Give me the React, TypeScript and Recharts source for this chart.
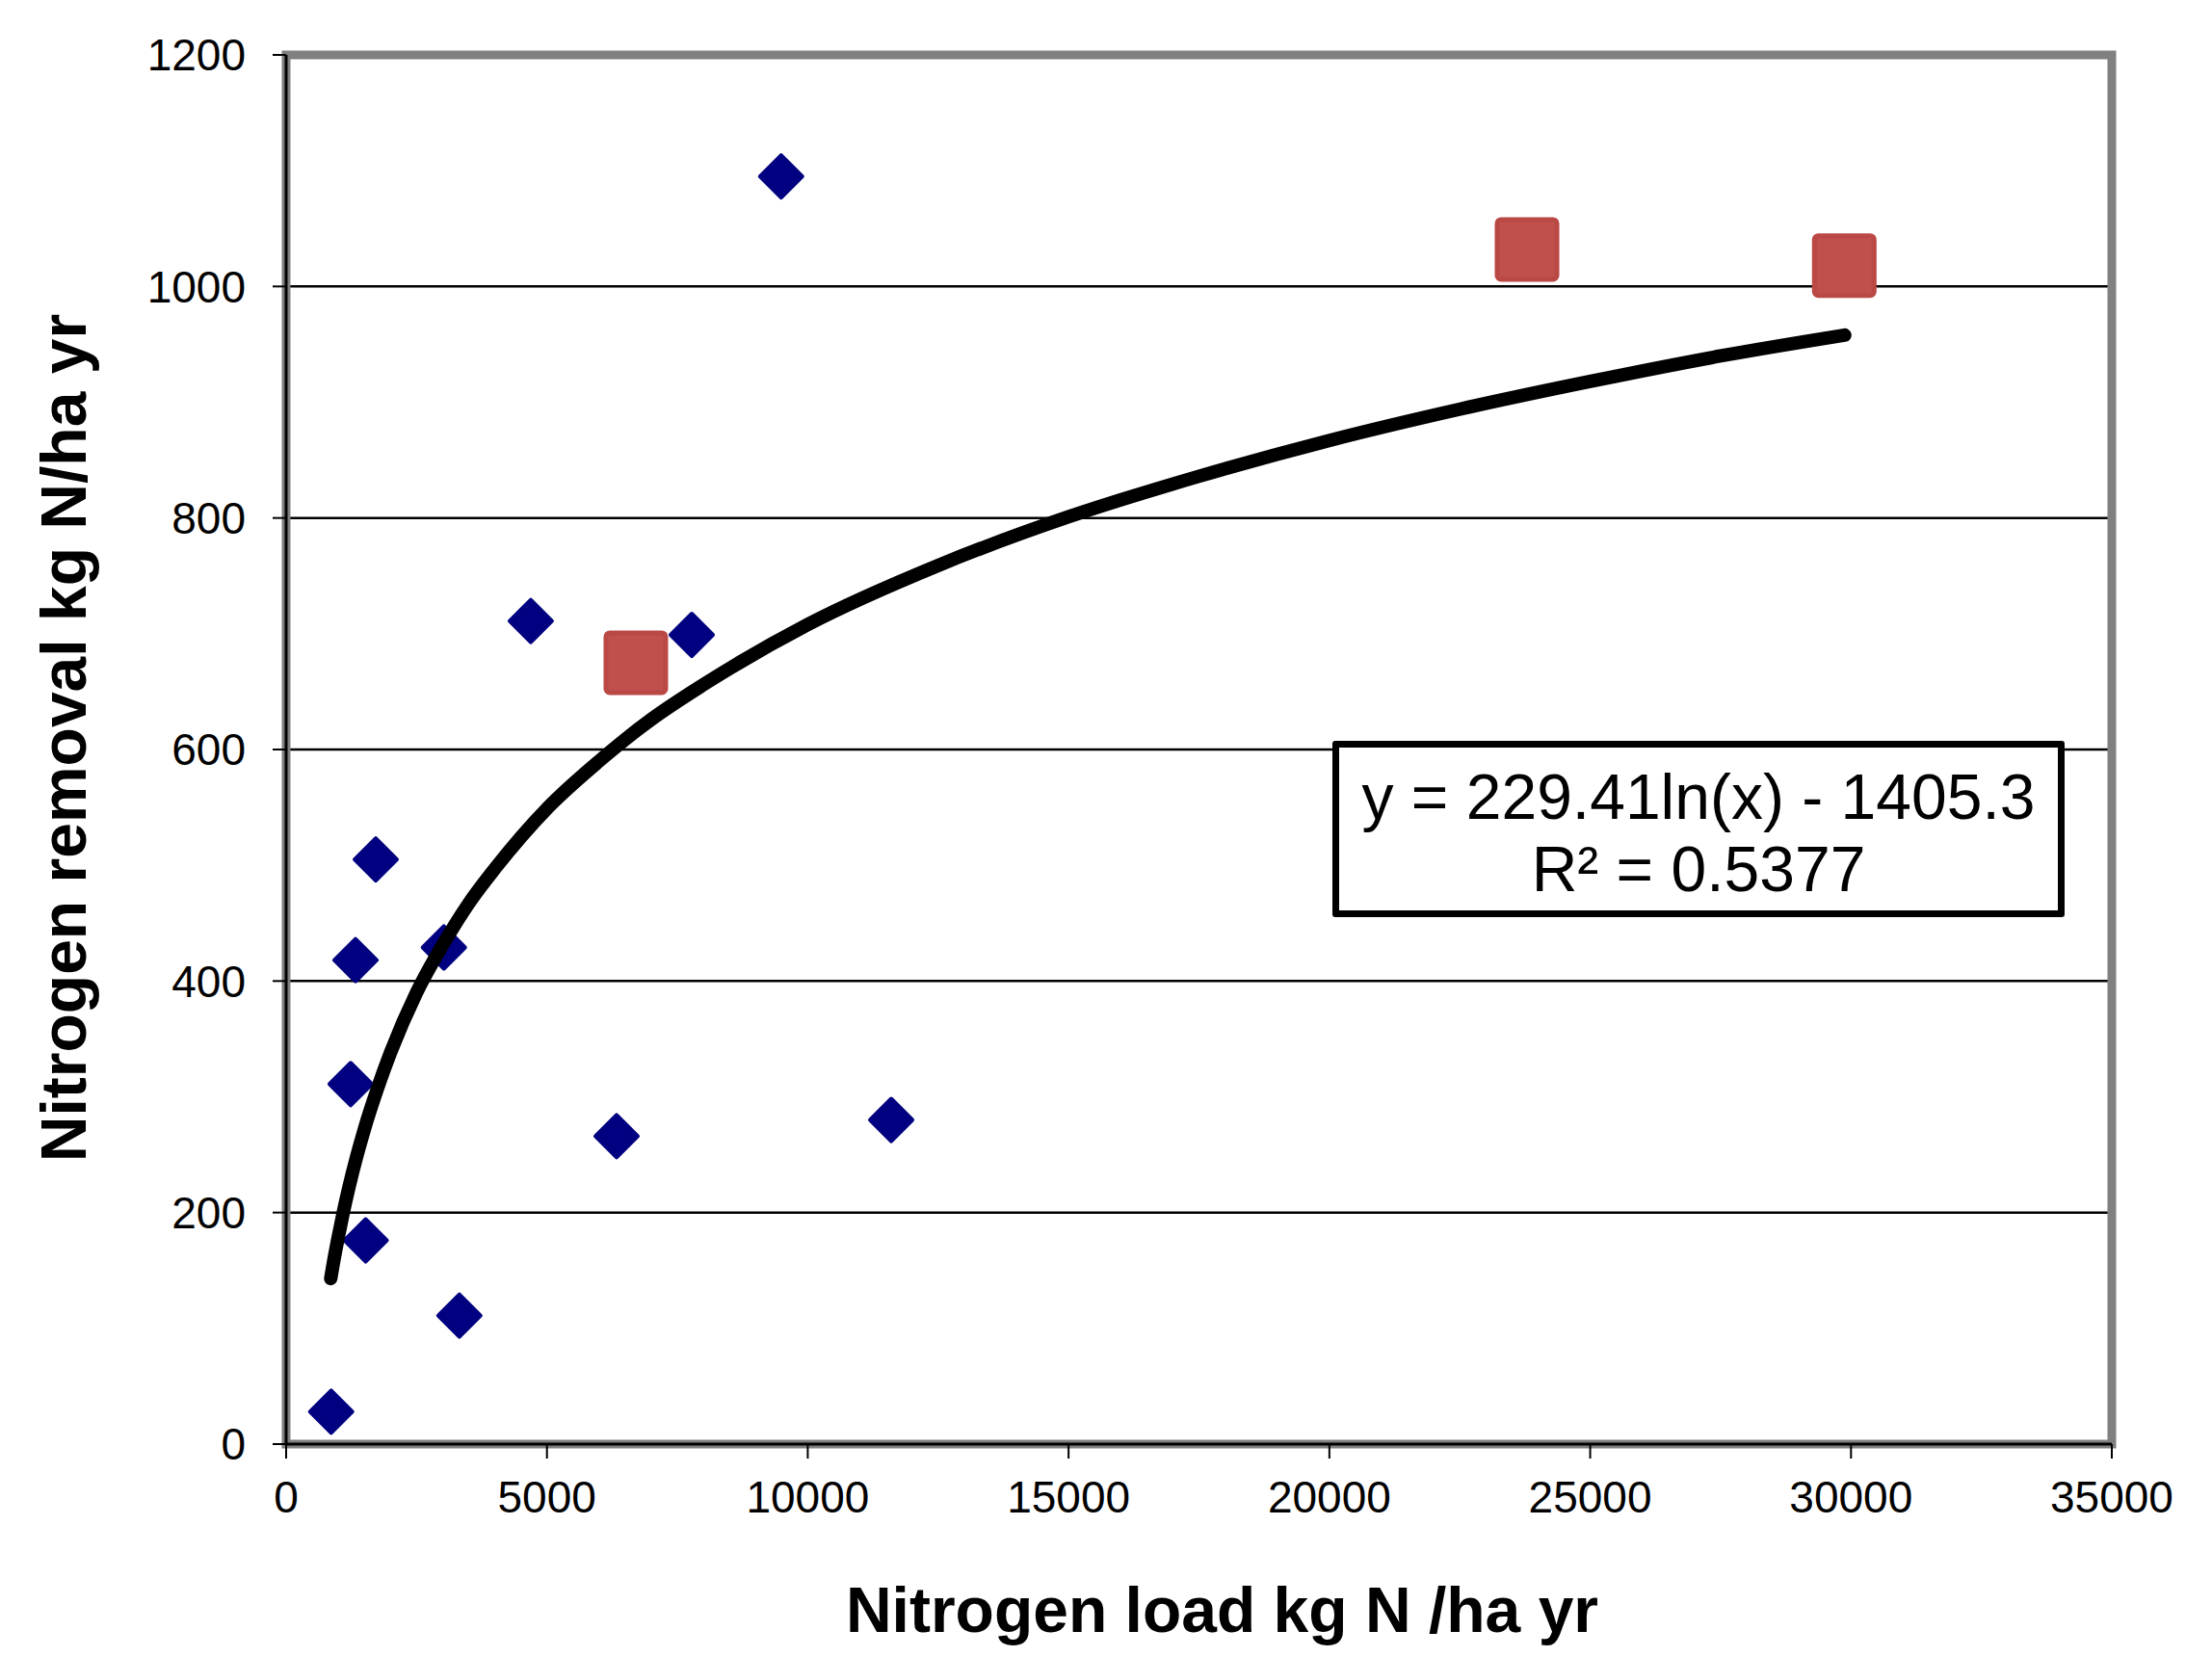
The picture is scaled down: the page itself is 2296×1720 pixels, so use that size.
import { ComposedChart, Scatter, Line, XAxis, YAxis, CartesianGrid, ReferenceArea, Label } from 'recharts';

// measured points (diamonds)
const siteLoad = [9490, 4690, 7776, 1718, 1330, 3024, 1237, 6335, 11600, 1524, 3321, 863];
const siteRemoval = [1095, 711, 699, 505, 418, 429, 311, 266, 280, 176, 111, 28];

// highlighted points (squares)
const highLoad = [6704, 23789, 29871];
const highRemoval = [675, 1032, 1018];

// points
const trendLoad = [855, 900, 1000, 1100, 1200, 1350, 1500, 1750, 2000, 2500, 3000, 3500, 4000, 5000, 6000, 7000, 8000, 10000, 12500, 15000, 17500, 20000, 22500, 25000, 27500, 29880];
const trendRemoval = [143, 155, 179, 201, 221, 248, 272, 307, 338, 390, 431, 467, 497, 549, 590, 626, 656, 708, 759, 801, 836, 867, 894, 918, 940, 958];

const xTicks = [0, 5000, 10000, 15000, 20000, 25000, 30000, 35000];
const yTicks = [0, 200, 400, 600, 800, 1000, 1200];

const equationText = 'y = 229.41ln(x) - 1405.3';
const rSquaredText = 'R² = 0.5377';

const sites = siteLoad.map((x, i) => ({ x, y: siteRemoval[i] }));
const highlighted = highLoad.map((x, i) => ({ x, y: highRemoval[i] }));
const trend = trendLoad.map((x, i) => ({ x, y: trendRemoval[i] }));

const FONT = "'Liberation Sans', Arial, sans-serif";

const Diamond = (props: any) => {
  const { cx, cy } = props;
  const r = 22;
  return (
    <polygon
      points={`${cx},${cy - r} ${cx + r},${cy} ${cx},${cy + r} ${cx - r},${cy}`}
      fill="#000080"
      stroke="#000080"
      strokeWidth={4}
      strokeLinejoin="round"
    />
  );
};

const Square = (props: any) => {
  const { cx, cy } = props;
  const s = 62;
  return (
    <rect x={cx - s / 2} y={cy - s / 2} width={s} height={s} rx={4} fill="#C0504D" stroke="#BA4845" strokeWidth={5} />
  );
};

export default function App() {
  return (
    <div style={{ position: 'absolute', left: 0, top: 0, width: 2296, height: 1720, background: '#fff' }}>
      <ComposedChart width={2296} height={1720} margin={{ top: 57, right: 104, left: 0, bottom: 0 }}>
        <CartesianGrid vertical={false} stroke="#000" strokeWidth={2.5} />
        <ReferenceArea x1={0} x2={35000} y1={0} y2={1200} fill="none" stroke="#808080" strokeWidth={9} ifOverflow="visible" />
        <XAxis
          type="number"
          dataKey="x"
          domain={[0, 35000]}
          ticks={xTicks}
          interval={0}
          height={221}
          axisLine={{ stroke: '#000', strokeWidth: 3 }}
          tickLine={{ stroke: '#000', strokeWidth: 2 }}
          tickSize={15}
          tickMargin={23}
          tick={{ fill: '#000', fontSize: 46, fontFamily: FONT }}
        >
          <Label
            content={(p: any) => {
              const vb = p.viewBox || { x: 297, y: 1499, width: 1895, height: 221 };
              return (
                <text x={vb.x + vb.width / 2 + 24} y={vb.y + 195} textAnchor="middle" fontSize={66} fontWeight="bold" fontFamily={FONT} fill="#000">
                  Nitrogen load kg N /ha yr
                </text>
              );
            }}
          />
        </XAxis>
        <YAxis
          type="number"
          dataKey="y"
          domain={[0, 1200]}
          ticks={yTicks}
          interval={0}
          width={297}
          axisLine={{ stroke: '#000', strokeWidth: 3 }}
          tickLine={{ stroke: '#000', strokeWidth: 2 }}
          tickSize={14}
          tickMargin={28}
          tick={{ fill: '#000', fontSize: 46, fontFamily: FONT }}
        >
          <Label
            content={(p: any) => {
              const vb = p.viewBox || { x: 0, y: 57, width: 297, height: 1442 };
              const cx = 89;
              const cy = vb.y + vb.height / 2 - 12;
              return (
                <text x={cx} y={cy} transform={`rotate(-90 ${cx} ${cy})`} textAnchor="middle" fontSize={66} fontWeight="bold" fontFamily={FONT} fill="#000">
                  Nitrogen removal kg N/ha yr
                </text>
              );
            }}
          />
        </YAxis>
        <Scatter data={sites} shape={Diamond} isAnimationActive={false} />
        <Scatter data={highlighted} shape={Square} isAnimationActive={false} />
        <Line
          data={trend}
          dataKey="y"
          type="monotone"
          stroke="#000"
          strokeWidth={14}
          strokeLinecap="round"
          strokeLinejoin="round"
          dot={false}
          activeDot={false}
          isAnimationActive={false}
          zIndex={700}
        />
      </ComposedChart>
      <div
        style={{
          position: 'absolute',
          left: 1383,
          top: 769,
          width: 760,
          height: 183,
          boxSizing: 'border-box',
          border: '7px solid #000',
          borderRadius: 3,
          background: '#fff',
          paddingTop: 14,
          fontFamily: FONT,
          fontSize: 66,
          lineHeight: '75px',
          textAlign: 'center',
          color: '#000',
        }}
      >
        <div>{equationText}</div>
        <div>{rSquaredText}</div>
      </div>
    </div>
  );
}
